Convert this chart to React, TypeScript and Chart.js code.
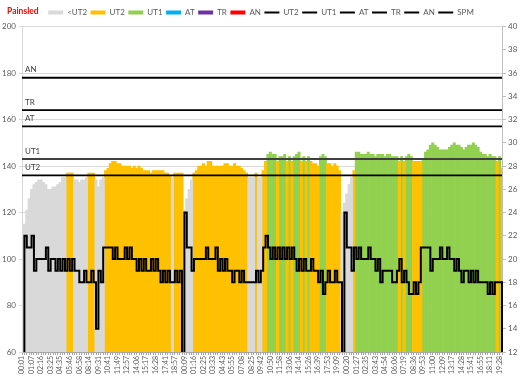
import { useEffect, useRef } from 'react';
import { Chart, registerables } from 'chart.js';

Chart.register(...registerables);
Chart.defaults.font.family = 'Lato';

const chartTitle = 'Painsled';

const timeLabels = [
  '00:01', '01:07', '02:16', '03:25', '04:35', '05:46', '06:58', '08:14', '09:31', '10:41', '11:49', '12:57', '14:06', '15:17', '16:28', '17:41', '18:57',
  '00:09', '01:16', '02:25', '03:33', '04:43', '05:55', '07:08', '08:25', '09:42', '10:50', '11:58', '13:06', '14:14', '15:26', '16:39', '17:53', '19:09',
  '00:20', '01:27', '02:35', '03:43', '04:54', '06:06', '07:19', '08:36', '09:53', '11:00', '12:09', '13:17', '14:28', '15:41', '16:55', '18:11', '19:28',
];
const POINTS_PER_LABEL = 4;

// Heart rate (left axis)
const hr = [
  110, 115, 121, 126, 130, 132, 133, 134, 134, 133,
  132, 130, 130, 131, 131, 132, 133, 135, 135, 137,
  137, 137, 134, 134, 133, 134, 134, 135, 137, 137,
  137, 134, 131, 134, 135, 138, 139, 141, 142, 142,
  141, 141, 140, 140, 140, 140, 139, 140, 139, 140,
  139, 138, 138, 138, 137, 138, 138, 138, 138, 138,
  137, 137, 136, 135, 137, 137, 137, 137,
  121, 126, 130, 134, 137, 138, 140, 140, 141, 140,
  142, 142, 140, 140, 140, 140, 140, 141, 141, 140,
  140, 141, 140, 140, 139, 138, 137, 135, 135, 135,
  137, 135, 135, 138, 142, 145, 146, 145, 145, 142,
  144, 144, 145, 142, 144, 142, 144, 145, 146, 142,
  144, 142, 144, 142, 141, 141, 140, 144, 145, 144,
  141, 141, 140, 141, 140, 138, 120,
  124, 128, 132, 135, 138, 146, 146, 145, 145, 145,
  146, 145, 145, 144, 145, 145, 145, 144, 145, 145,
  144, 144, 144, 142, 144, 142, 144, 145, 144, 142,
  142, 142, 142, 143, 146, 147, 149, 150, 149, 148,
  147, 147, 147, 147, 148, 149, 150, 149, 149, 148,
  147, 148, 149, 149, 150, 149, 148, 146, 145, 145,
  144, 145, 144, 144, 142, 144, 139,
];

// Strokes per minute (right axis)
const spm = [
  0, 22, 21, 21, 22, 19, 20, 20, 20, 20,
  21, 19, 20, 20, 19, 20, 19, 20, 19, 20,
  19, 20, 19, 19, 18, 18, 19, 18, 18, 19,
  18, 14, 19, 18, 21, 21, 21, 21, 20, 21,
  20, 20, 20, 21, 20, 21, 20, 20, 19, 20,
  19, 20, 19, 19, 20, 19, 20, 19, 18, 19,
  18, 19, 18, 18, 19, 18, 19, 0,
  24, 21, 21, 19, 20, 20, 20, 20, 20, 21,
  20, 20, 20, 21, 19, 20, 19, 20, 19, 19,
  18, 19, 19, 18, 19, 18, 18, 18, 18, 18,
  19, 18, 19, 21, 22, 21, 20, 21, 20, 21,
  20, 21, 20, 21, 20, 21, 20, 19, 20, 19,
  20, 19, 19, 20, 19, 19, 18, 19, 17, 18,
  19, 18, 18, 19, 18, 18, 0,
  24, 21, 21, 19, 21, 20, 21, 20, 20, 20,
  21, 20, 20, 19, 20, 18, 19, 19, 19, 19,
  18, 18, 19, 20, 18, 19, 18, 17, 17, 18,
  17, 18, 21, 21, 21, 21, 19, 20, 20, 20,
  21, 20, 20, 21, 20, 20, 19, 20, 19, 18,
  19, 19, 18, 19, 18, 19, 18, 18, 18, 18,
  17, 18, 17, 18, 18, 18, 0,
];

const zoneNames = ['<UT2', 'UT2', 'UT1', 'AT', 'TR', 'AN'];
const zoneColors = ['#d9d9d9', '#ffc000', '#92d050', '#00b0f0', '#7030a0', '#ff0000'];
const thresholdNames = ['UT2', 'UT1', 'AT', 'TR', 'AN'];
const thresholds = [136, 143, 157, 164, 178];
const thresholdColors = ['#000000', '#404040', '#000000', '#000000', '#000000'];
const thresholdWidths = [1.75, 2, 1.75, 1.75, 2];
const leftTicks = { min: 60, max: 200, step: 20 };
const rightTicks = { min: 12, max: 40, step: 2 };

const textPlugin = {
  id: 'painsledText',
  afterDatasetsDraw(chart: any) {
    const { ctx, chartArea, scales } = chart;
    ctx.save();
    ctx.textBaseline = 'middle';
    ctx.textAlign = 'left';
    ctx.font = '8px Lato';
    ctx.fillStyle = '#404040';
    thresholds.forEach((t, k) => {
      const y = scales.y.getPixelForValue(t);
      ctx.fillText(thresholdNames[k], chartArea.left + 3, y - 8);
    });
    ctx.font = 'bold 8.5px Lato';
    ctx.fillStyle = '#ff0000';
    ctx.fillText(chartTitle, 7, 11);
    ctx.restore();
  },
};

export default function App() {
  const ref = useRef<HTMLCanvasElement>(null);

  useEffect(() => {
    const canvas = ref.current;
    if (!canvas) return;

    const categories = hr.map((_, i) =>
      i % POINTS_PER_LABEL === 0 ? timeLabels[i / POINTS_PER_LABEL] ?? '' : ''
    );
    const zoneOf = (v: number) => thresholds.filter((t) => v >= t).length;

    const zoneDatasets = zoneNames.map((name, k) => ({
      type: 'bar' as const,
      label: name,
      data: hr.map((v) => (zoneOf(v) === k ? v : null)),
      backgroundColor: zoneColors[k],
      borderWidth: 0,
      barPercentage: 1,
      categoryPercentage: 1,
      grouped: false,
      yAxisID: 'y',
      order: 2,
    }));

    const thresholdDatasets = thresholdNames.map((name, k) => ({
      type: 'line' as const,
      label: name,
      data: hr.map(() => thresholds[k]),
      borderColor: thresholdColors[k],
      backgroundColor: thresholdColors[k],
      borderWidth: thresholdWidths[k],
      pointRadius: 0,
      fill: false,
      yAxisID: 'y',
      order: 1,
    }));

    const spmDataset = {
      type: 'line' as const,
      label: 'SPM',
      data: spm,
      borderColor: '#000000',
      backgroundColor: '#000000',
      borderWidth: 2,
      pointRadius: 0,
      stepped: true,
      fill: false,
      yAxisID: 'y1',
      order: 0,
    };

    const chart = new Chart(canvas, {
      type: 'bar',
      data: {
        labels: categories,
        datasets: [...zoneDatasets, ...thresholdDatasets, spmDataset] as any,
      },
      plugins: [textPlugin],
      options: {
        responsive: false,
        animation: false,
        devicePixelRatio: 1,
        events: [],
        layout: { padding: { top: 5, left: 0, right: 0, bottom: 0 } },
        plugins: {
          tooltip: { enabled: false },
          title: { display: false },
          legend: {
            display: true,
            position: 'top',
            labels: {
              usePointStyle: true,
              pointStyleWidth: 15,
              boxWidth: 15,
              boxHeight: 4,
              padding: 3.5,
              color: '#595959',
              font: { family: 'Lato', size: 8 },
              generateLabels: (c: any) =>
                c.data.datasets.map((ds: any, i: number) => {
                  const isLine = ds.type === 'line';
                  return {
                    text: ds.label,
                    datasetIndex: i,
                    hidden: false,
                    fillStyle: isLine ? 'rgba(0,0,0,0)' : ds.backgroundColor,
                    strokeStyle: isLine ? '#000000' : ds.backgroundColor,
                    lineWidth: isLine ? 2 : 0,
                    pointStyle: isLine ? 'line' : 'rect',
                    fontColor: '#595959',
                  };
                }),
            },
          },
        },
        scales: {
          x: {
            type: 'category',
            offset: false,
            grid: {
              display: true,
              offset: false,
              drawOnChartArea: false,
              drawTicks: true,
              tickLength: 3,
              color: '#a6a6a6',
            },
            border: { display: true, color: '#a6a6a6' },
            ticks: {
              autoSkip: false,
              maxRotation: 90,
              minRotation: 90,
              padding: 1,
              color: '#595959',
              font: { family: 'Lato', size: 7 },
            },
            afterFit: (s: any) => {
              s.height = 28;
            },
          },
          y: {
            type: 'linear',
            position: 'left',
            min: leftTicks.min,
            max: leftTicks.max,
            ticks: {
              stepSize: leftTicks.step,
              padding: 3,
              color: '#595959',
              font: { family: 'Lato', size: 8 },
            },
            grid: { color: '#d9d9d9', tickLength: 3 },
            border: { color: '#d9d9d9' },
            afterFit: (s: any) => {
              s.width = 22;
            },
          },
          y1: {
            type: 'linear',
            position: 'right',
            min: rightTicks.min,
            max: rightTicks.max,
            ticks: {
              stepSize: rightTicks.step,
              padding: 2,
              color: '#595959',
              font: { family: 'Lato', size: 8 },
            },
            grid: { drawOnChartArea: false, tickLength: 4, color: '#bfbfbf' },
            border: { color: '#bfbfbf' },
            afterFit: (s: any) => {
              s.width = 20;
            },
          },
        },
      } as any,
    });

    return () => chart.destroy();
  }, []);

  return (
    <div style={{ position: 'fixed', left: 0, top: 0, width: 522, height: 380, background: '#ffffff' }}>
      <canvas ref={ref} width={522} height={380} style={{ width: 522, height: 380, display: 'block' }} />
    </div>
  );
}
